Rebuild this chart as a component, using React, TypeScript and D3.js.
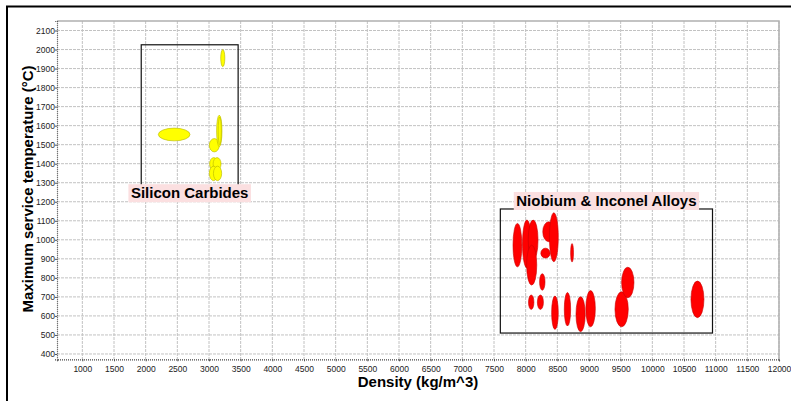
import React, { useEffect, useRef } from "react";
import * as d3 from "d3";

const WIDTH = 791;
const HEIGHT = 401;

// Silicon carbides: density (kg/m^3) and max service temperature (°C) ranges
const sicDensityLow = [3185, 2200, 3005, 3120, 3145, 3010, 3065, 3005, 3070];
const sicDensityHigh = [3250, 2700, 3163, 3205, 3195, 3140, 3190, 3140, 3200];
const sicTempLow = [1910, 1520, 1462, 1490, 1500, 1366, 1366, 1311, 1311];
const sicTempHigh = [2000, 1587, 1532, 1655, 1645, 1432, 1432, 1387, 1387];

// Niobium & Inconel alloys
const nbDensityLow = [7800, 7950, 8040, 8015, 8240, 8270, 8375, 8220, 8710, 8045, 8185, 8410, 8610, 8795, 8950, 9410, 9515, 10610];
const nbDensityHigh = [7940, 8090, 8195, 8175, 8385, 8460, 8515, 8305, 8755, 8130, 8280, 8515, 8710, 8940, 9100, 9620, 9710, 10815];
const nbTempLow = [858, 852, 894, 762, 904, 990, 885, 735, 883, 634, 634, 529, 547, 517, 543, 543, 696, 591];
const nbTempHigh = [1086, 1104, 1104, 972, 956, 1095, 1142, 822, 980, 710, 710, 705, 723, 701, 733, 727, 856, 783];

// envelope boxes [densityLow, densityHigh, tempLow, tempHigh]
const sicEnvelope = [1930, 3460, 1245, 2025];
const nbEnvelope = [7600, 10950, 510, 1162];

const xTicks = d3.range(1000, 12001, 500);
const yTicks = d3.range(400, 2101, 100);

const FONT = "'Liberation Sans', Arial, sans-serif";

const App: React.FC = () => {
  const svgRef = useRef<SVGSVGElement | null>(null);

  useEffect(() => {
    const svg = d3.select(svgRef.current);
    svg.selectAll("*").remove();

    const left = 57, right = 779, top = 21, bottom = 359.3;
    const x = d3.scaleLinear().domain([600, 12000]).range([left, right]);
    const y = d3.scaleLinear().domain([372, 2150]).range([bottom, top]);

    svg.append("rect").attr("width", WIDTH).attr("height", HEIGHT).attr("fill", "#fff");

    // outer frame
    svg.append("rect")
      .attr("x", 7).attr("y", 6.5)
      .attr("width", 900).attr("height", 500)
      .attr("fill", "none").attr("stroke", "#000").attr("stroke-width", 2);

    // grid
    const grid = svg.append("g");
    grid.selectAll("line.gx").data(xTicks).enter().append("line")
      .attr("x1", (d) => x(d)).attr("x2", (d) => x(d))
      .attr("y1", top).attr("y2", bottom)
      .attr("stroke", "#c2c2c2").attr("stroke-width", 1)
      .attr("stroke-dasharray", "3,1");
    grid.selectAll("line.gy").data(yTicks).enter().append("line")
      .attr("x1", left).attr("x2", right)
      .attr("y1", (d) => y(d)).attr("y2", (d) => y(d))
      .attr("stroke", "#c2c2c2").attr("stroke-width", 1)
      .attr("stroke-dasharray", "3,1");

    // plot border top/right
    svg.append("path")
      .attr("d", `M${left},${top}H${right}V${bottom}`)
      .attr("fill", "none").attr("stroke", "#b0b0b0").attr("stroke-width", 1.5);

    // axes
    const xAxis = svg.append("g").attr("transform", `translate(0,${bottom})`)
      .call(d3.axisBottom(x).tickValues(xTicks).tickSize(2).tickFormat(d3.format("d")));
    const yAxis = svg.append("g").attr("transform", `translate(${left},0)`)
      .call(d3.axisLeft(y).tickValues(yTicks).tickSize(2).tickPadding(0).tickFormat(d3.format("d")));
    [xAxis, yAxis].forEach((g) => {
      g.select(".domain").attr("stroke", "#444").attr("stroke-dasharray", "1,1").attr("stroke-width", 1.2);
      g.selectAll(".tick line").attr("stroke", "#555");
      g.selectAll(".tick text")
        .attr("font-family", FONT).attr("font-size", 8.5).attr("fill", "#222");
    });
    xAxis.selectAll(".tick text").attr("dy", "0.95em");

    // ellipses
    const drawFamily = (
      lo: number[], hi: number[], tlo: number[], thi: number[],
      fill: string, stroke: string
    ) => {
      const rows = lo.map((d, i) => ({ x0: d, x1: hi[i], y0: tlo[i], y1: thi[i] }));
      svg.append("g").selectAll("ellipse").data(rows).enter().append("ellipse")
        .attr("cx", (d) => (x(d.x0) + x(d.x1)) / 2)
        .attr("cy", (d) => (y(d.y0) + y(d.y1)) / 2)
        .attr("rx", (d) => (x(d.x1) - x(d.x0)) / 2)
        .attr("ry", (d) => (y(d.y0) - y(d.y1)) / 2)
        .attr("fill", fill).attr("stroke", stroke).attr("stroke-width", 0.6);
    };
    drawFamily(sicDensityLow, sicDensityHigh, sicTempLow, sicTempHigh, "#ffff00", "#b5b500");
    drawFamily(nbDensityLow, nbDensityHigh, nbTempLow, nbTempHigh, "#ff0000", "#c80000");

    // envelope boxes with labels
    const envelope = (env: number[], label: string, atTop: boolean) => {
      const [x0, x1, y0, y1] = env;
      svg.append("rect")
        .attr("x", x(x0)).attr("y", y(y1))
        .attr("width", x(x1) - x(x0)).attr("height", y(y0) - y(y1))
        .attr("fill", "none").attr("stroke", "#111").attr("stroke-width", 1.2);
      const cx = (x(x0) + x(x1)) / 2;
      const cy = atTop ? y(y1) - 8 : y(y0);
      const t = svg.append("text")
        .attr("x", cx).attr("y", cy).attr("dy", "0.35em")
        .attr("text-anchor", "middle")
        .attr("font-family", FONT).attr("font-weight", "bold").attr("font-size", 15)
        .attr("fill", "#000").text(label);
      const bb = (t.node() as SVGTextElement).getBBox();
      svg.insert("rect", () => t.node())
        .attr("x", bb.x - 2.5).attr("y", cy - 9)
        .attr("width", bb.width + 5).attr("height", 18)
        .attr("fill", "#fbdfe0");
    };
    envelope(sicEnvelope, "Silicon Carbides", false);
    envelope(nbEnvelope, "Niobium & Inconel Alloys", true);

    // axis titles
    svg.append("text")
      .attr("x", 418).attr("y", 387)
      .attr("text-anchor", "middle")
      .attr("font-family", FONT).attr("font-weight", "bold").attr("font-size", 15)
      .text("Density (kg/m^3)");
    svg.append("text")
      .attr("transform", `translate(33,189) rotate(-90)`)
      .attr("text-anchor", "middle")
      .attr("font-family", FONT).attr("font-weight", "bold").attr("font-size", 15)
      .text("Maximum service temperature (°C)");
  }, []);

  return (
    <div style={{ position: "absolute", left: 0, top: 0 }}>
      <svg ref={svgRef} width={WIDTH} height={HEIGHT}></svg>
    </div>
  );
};

export default App;
